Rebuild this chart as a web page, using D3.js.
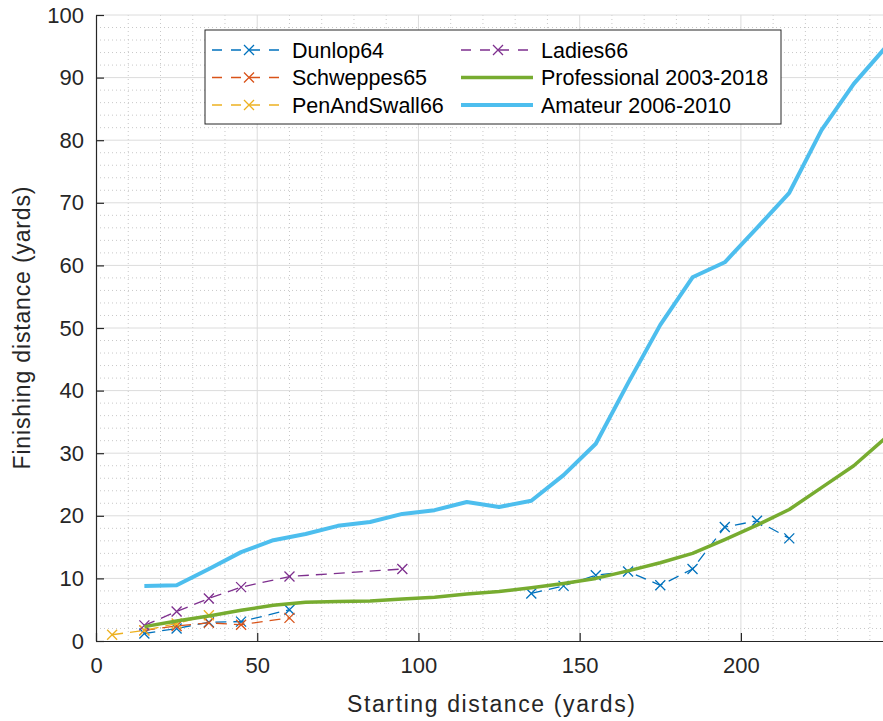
<!DOCTYPE html>
<html>
<head>
<meta charset="utf-8">
<script src="https://cdn.jsdelivr.net/npm/d3@7"></script>
<style>
  body { margin: 0; background: #fff; }
  text { font-family: "Liberation Sans", Arial, sans-serif; }
</style>
</head>
<body>
<div id="chart"></div>
<script>
// ── data ──────────────────────────────────────────────────────────────────────
const dunlopX   = [15, 25, 35, 45, 60, null, 135, 145, 155, 165, 175, 185, 195, 205, 215];
const dunlopY   = [1.2, 2.0, 3.0, 3.1, 5.0, null, 7.6, 8.8, 10.5, 11.1, 8.9, 11.5, 18.2, 19.2, 16.4];
const schwX     = [15, 25, 35, 45, 60];
const schwY     = [1.7, 2.4, 2.9, 2.6, 3.7];
const penX      = [5, 15, 25, 35];
const penY      = [1.0, 1.7, 2.8, 4.1];
const ladiesX   = [15, 25, 35, 45, 60, 95];
const ladiesY   = [2.5, 4.7, 6.8, 8.6, 10.3, 11.5];
const proX      = [15, 25, 35, 45, 55, 65, 75, 85, 95, 105, 115, 125, 135, 145, 155, 165, 175, 185, 195, 205, 215, 225, 235, 245];
const proY      = [2.3, 3.2, 4.0, 4.9, 5.7, 6.2, 6.3, 6.4, 6.7, 7.0, 7.5, 7.9, 8.5, 9.2, 10.0, 11.2, 12.5, 14.0, 16.2, 18.5, 21.0, 24.5, 28.0, 32.5];
const amX       = [15, 25, 35, 45, 55, 65, 75, 85, 95, 105, 115, 125, 135, 145, 155, 165, 175, 185, 195, 205, 215, 225, 235, 245];
const amY       = [8.8, 8.9, 11.5, 14.2, 16.1, 17.1, 18.4, 19.0, 20.3, 20.9, 22.2, 21.4, 22.4, 26.5, 31.5, 41.2, 50.5, 58.1, 60.5, 66.0, 71.6, 81.6, 89.0, 94.9];

const xTicks = [0, 50, 100, 150, 200];
const yTicks = [0, 10, 20, 30, 40, 50, 60, 70, 80, 90, 100];

const series = [
  { name: 'Dunlop64',               xs: dunlopX, ys: dunlopY, color: '#0072BD', dashed: true,  marker: true },
  { name: 'Schweppes65',            xs: schwX,   ys: schwY,   color: '#D95319', dashed: true,  marker: true },
  { name: 'PenAndSwall66',          xs: penX,    ys: penY,    color: '#EDB120', dashed: true,  marker: true },
  { name: 'Ladies66',               xs: ladiesX, ys: ladiesY, color: '#7E2F8E', dashed: true,  marker: true },
  { name: 'Professional 2003-2018', xs: proX,    ys: proY,    color: '#77AC30', dashed: false, marker: false, w: 3.5 },
  { name: 'Amateur 2006-2010',      xs: amX,     ys: amY,     color: '#4DBEEE', dashed: false, marker: false, w: 4 }
];

// ── layout ────────────────────────────────────────────────────────────────────
const W = 883, H = 721;
const pLeft = 96, pTop = 15, pBottom = 641, pRight = 886;

const x = d3.scaleLinear().domain([0, 245]).range([pLeft, pRight]);
const y = d3.scaleLinear().domain([0, 100]).range([pBottom, pTop]);

const svg = d3.select('#chart').append('svg')
  .attr('width', W).attr('height', H);

svg.append('defs').append('clipPath').attr('id', 'clip')
  .append('rect').attr('x', pLeft).attr('y', pTop - 2)
  .attr('width', pRight - pLeft).attr('height', pBottom - pTop + 2);

// ── grid ──────────────────────────────────────────────────────────────────────
const grid = svg.append('g');
d3.range(0, 246, 10).filter(v => v % 50 !== 0).forEach(v => {
  grid.append('line').attr('x1', x(v)).attr('x2', x(v)).attr('y1', pTop).attr('y2', pBottom)
    .attr('stroke', '#c8c8c8').attr('stroke-width', 1).attr('stroke-dasharray', '1,3');
});
d3.range(0, 101, 2).filter(v => v % 10 !== 0).forEach(v => {
  grid.append('line').attr('x1', pLeft).attr('x2', pRight).attr('y1', y(v)).attr('y2', y(v))
    .attr('stroke', '#c8c8c8').attr('stroke-width', 1).attr('stroke-dasharray', '1,3');
});
xTicks.slice(1).forEach(v => {
  grid.append('line').attr('x1', x(v)).attr('x2', x(v)).attr('y1', pTop).attr('y2', pBottom)
    .attr('stroke', '#dcdcdc').attr('stroke-width', 1);
});
yTicks.slice(1).forEach(v => {
  grid.append('line').attr('x1', pLeft).attr('x2', pRight).attr('y1', y(v)).attr('y2', y(v))
    .attr('stroke', '#dcdcdc').attr('stroke-width', 1);
});

// ── axes ──────────────────────────────────────────────────────────────────────
const styleAxis = g => {
  g.selectAll('.domain').attr('stroke', '#262626').attr('stroke-width', 1.2);
  g.selectAll('.tick line').attr('stroke', '#262626').attr('stroke-width', 1.2);
  g.selectAll('.tick text').attr('fill', '#262626').attr('font-size', 22)
    .attr('font-family', '"Liberation Sans", Arial, sans-serif');
};

svg.append('g')
  .attr('transform', `translate(0,${pBottom})`)
  .call(d3.axisBottom(x).tickValues(xTicks).tickSize(-8).tickSizeOuter(0).tickPadding(16))
  .call(styleAxis);

svg.append('g')
  .attr('transform', `translate(${pLeft},0)`)
  .call(d3.axisLeft(y).tickValues(yTicks).tickSize(-8).tickSizeOuter(0).tickPadding(12))
  .call(styleAxis);

svg.append('text')
  .attr('x', 491).attr('y', 712)
  .attr('text-anchor', 'middle').attr('font-size', 23).attr('fill', '#262626')
  .attr('textLength', 288).attr('lengthAdjust', 'spacing')
  .text('Starting distance (yards)');

svg.append('text')
  .attr('transform', `translate(30,${(pTop + pBottom) / 2}) rotate(-90)`)
  .attr('text-anchor', 'middle').attr('font-size', 23).attr('fill', '#262626')
  .attr('textLength', 283).attr('lengthAdjust', 'spacing')
  .text('Finishing distance (yards)');

// ── series ────────────────────────────────────────────────────────────────────
const plot = svg.append('g').attr('clip-path', 'url(#clip)');
const line = d3.line()
  .defined(d => d[0] !== null && d[1] !== null)
  .x(d => x(d[0])).y(d => y(d[1]));

const xMarker = (g, cx, cy, color, r = 5) => {
  g.append('path')
    .attr('d', `M${cx - r},${cy - r}L${cx + r},${cy + r}M${cx - r},${cy + r}L${cx + r},${cy - r}`)
    .attr('stroke', color).attr('stroke-width', 1.3).attr('fill', 'none');
};

series.forEach(s => {
  const pts = s.xs.map((v, i) => [v, s.ys[i]]);
  plot.append('path')
    .attr('d', line(pts))
    .attr('fill', 'none')
    .attr('stroke', s.color)
    .attr('stroke-width', s.w || 1.3)
    .attr('stroke-linejoin', 'round')
    .attr('stroke-dasharray', s.dashed ? '11,7' : null);
  if (s.marker) {
    pts.filter(p => p[0] !== null).forEach(p => xMarker(plot, x(p[0]), y(p[1]), s.color));
  }
});

// ── legend ────────────────────────────────────────────────────────────────────
const legend = svg.append('g');
legend.append('rect')
  .attr('x', 205).attr('y', 30).attr('width', 576).attr('height', 94)
  .attr('fill', '#fff').attr('stroke', '#262626').attr('stroke-width', 1);

series.forEach((s, i) => {
  const col = Math.floor(i / 3), row = i % 3;
  const lx = 212 + col * 249, ly = 50 + row * 27.5;
  legend.append('line')
    .attr('x1', lx).attr('x2', lx + 72).attr('y1', ly).attr('y2', ly)
    .attr('stroke', s.color).attr('stroke-width', s.w || 1.3)
    .attr('stroke-dasharray', s.dashed ? '10,9' : null);
  if (s.marker) xMarker(legend, lx + 37, ly, s.color);
  legend.append('text')
    .attr('x', lx + 80).attr('y', ly + 7.5)
    .attr('font-size', 21.5).attr('fill', '#000')
    .text(s.name);
});
</script>
</body>
</html>
